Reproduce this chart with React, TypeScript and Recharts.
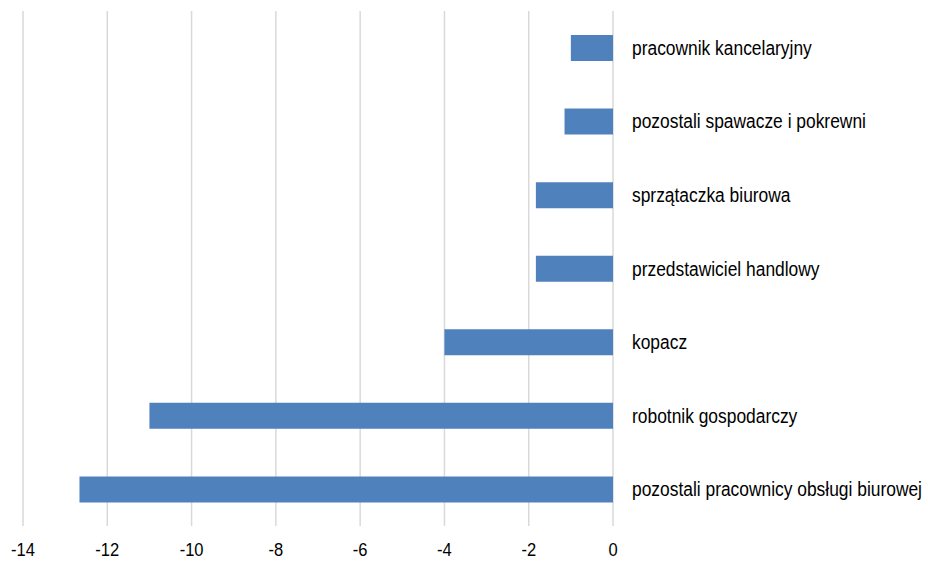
import { Bar, BarChart, CartesianGrid, XAxis, YAxis } from "recharts";

// kategorie od góry do dołu
const categories = [
  "pracownik kancelaryjny",
  "pozostali spawacze i pokrewni",
  "sprzątaczka biurowa",
  "przedstawiciel handlowy",
  "kopacz",
  "robotnik gospodarczy",
  "pozostali pracownicy obsługi biurowej",
];

const values = [-1.0, -1.15, -1.83, -1.83, -4.0, -11.0, -12.66];

const xTicks = [-14, -12, -10, -8, -6, -4, -2, 0];

const data = categories.map((name, i) => ({ name, value: values[i] }));

const FONT = '"Liberation Sans", Arial, sans-serif';
// font w oryginale jest zwężony (Arial Narrow), więc ściskamy tekst w poziomie
const NARROW = 0.87;

const CategoryTick = ({ x, y, payload }: any) => (
  <g transform={`translate(${x},${y})`}>
    <text
      transform={`scale(${NARROW},1)`}
      textAnchor="start"
      dy="0.35em"
      fill="#000"
      fontSize={20}
      fontFamily={FONT}
    >
      {payload.value}
    </text>
  </g>
);

const ValueTick = ({ x, y, payload }: any) => (
  <g transform={`translate(${x},${y})`}>
    <text
      transform={`scale(${NARROW},1)`}
      textAnchor="middle"
      dy="0.71em"
      fill="#000"
      fontSize={19}
      fontFamily={FONT}
    >
      {payload.value}
    </text>
  </g>
);

export default function App() {
  return (
    <div style={{ position: "absolute", left: 0, top: 0, width: 928, height: 562, background: "#fff" }}>
      <BarChart
        width={928}
        height={562}
        data={data}
        layout="vertical"
        margin={{ top: 11, right: 0, left: 23, bottom: 6 }}
      >
        <CartesianGrid horizontal={false} stroke="#d9d9d9" strokeWidth={1.5} />
        <XAxis
          type="number"
          domain={[-14, 0]}
          ticks={xTicks}
          axisLine={false}
          tickLine={false}
          height={30}
          tickMargin={10}
          tick={<ValueTick />}
          interval={0}
        />
        <YAxis
          type="category"
          dataKey="name"
          orientation="right"
          width={315}
          axisLine={false}
          tickLine={false}
          tickMargin={13}
          tick={<CategoryTick />}
          interval={0}
        />
        <Bar dataKey="value" fill="#4f81bd" barSize={26} isAnimationActive={false} />
      </BarChart>
    </div>
  );
}
